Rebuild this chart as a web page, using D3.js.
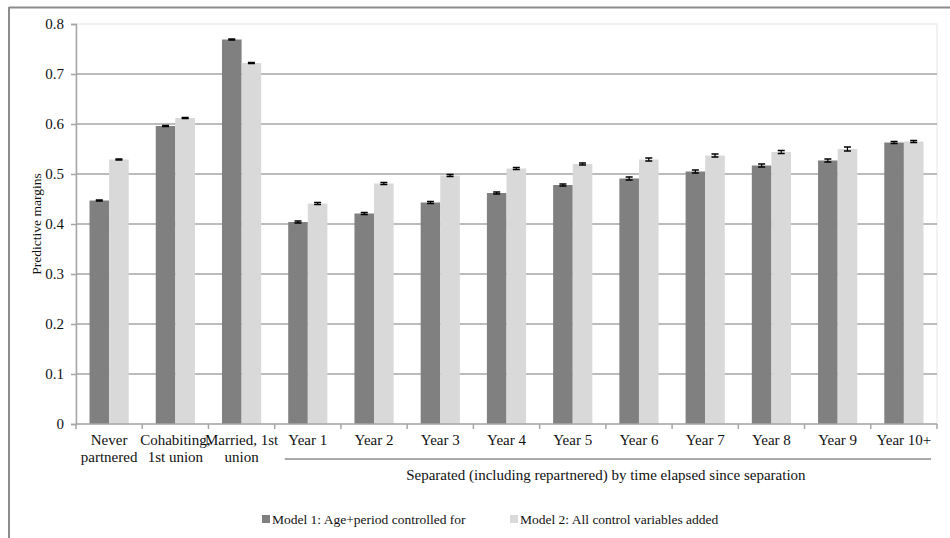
<!DOCTYPE html>
<html>
<head>
<meta charset="utf-8">
<script src="https://cdn.jsdelivr.net/npm/d3@7/dist/d3.min.js"></script>
<style>
  html, body { margin: 0; padding: 0; background: #fff; }
  svg { display: block; font-family: "Liberation Serif", "Times New Roman", serif; }
</style>
</head>
<body>
<svg id="chart" width="950" height="538"></svg>
<script>
// Category labels (line-broken where the label wraps)
const categories = [
  ["Never", "partnered"], ["Cohabiting,", "1st union"], ["Married, 1st", "union"],
  ["Year 1"], ["Year 2"], ["Year 3"], ["Year 4"], ["Year 5"],
  ["Year 6"], ["Year 7"], ["Year 8"], ["Year 9"], ["Year 10+"]
];
const seriesNames = ["Model 1: Age+period controlled for", "Model 2: All control variables added"];
const model1 = [0.447, 0.596, 0.769, 0.404, 0.421, 0.443, 0.462, 0.478, 0.491, 0.505, 0.517, 0.527, 0.563];
const model2 = [0.529, 0.612, 0.722, 0.441, 0.481, 0.497, 0.511, 0.520, 0.529, 0.537, 0.544, 0.550, 0.565];
const err1   = [0.001, 0.001, 0.001, 0.002, 0.002, 0.002, 0.002, 0.002, 0.003, 0.003, 0.003, 0.003, 0.002];
const err2   = [0.001, 0.001, 0.001, 0.002, 0.002, 0.002, 0.002, 0.002, 0.003, 0.003, 0.003, 0.004, 0.002];
const yTicks = [0, 0.1, 0.2, 0.3, 0.4, 0.5, 0.6, 0.7, 0.8];
const yTitle = "Predictive margins";
const groupTitle = "Separated (including repartnered) by time elapsed since separation";

const colors = ["#808080", "#d9d9d9"];
const svg = d3.select("#chart");

// outer frame (top and left edges)
svg.append("line").attr("x1", 9).attr("x2", 950).attr("y1", 7.5).attr("y2", 7.5)
  .attr("stroke", "#8c8c8c").attr("stroke-width", 2);
svg.append("line").attr("x1", 9).attr("x2", 9).attr("y1", 7).attr("y2", 538)
  .attr("stroke", "#8c8c8c").attr("stroke-width", 2);

const plotL = 76, plotR = 937, plotT = 24, plotB = 424;
const x = d3.scaleBand().domain(d3.range(categories.length)).range([plotL, plotR]).paddingInner(0).paddingOuter(0);
const y = d3.scaleLinear().domain([0, 0.8]).range([plotB, plotT]);

// plot area border (top/right)
svg.append("rect").attr("x", plotL).attr("y", plotT).attr("width", plotR - plotL).attr("height", plotB - plotT)
  .attr("fill", "none").attr("stroke", "#e6e6e6").attr("stroke-width", 1);

// horizontal gridlines
svg.append("g").selectAll("line").data(yTicks.filter(d => d > 0 && d < 0.8)).join("line")
  .attr("x1", plotL).attr("x2", plotR)
  .attr("y1", d => y(d)).attr("y2", d => y(d))
  .attr("stroke", "#a6a6a6").attr("stroke-width", 1.5);

// y axis
const yAxis = svg.append("g").attr("transform", `translate(${plotL},0)`)
  .call(d3.axisLeft(y).tickValues(yTicks).tickSize(5).tickPadding(7).tickFormat(d => d === 0 ? "0" : d3.format(".1f")(d)));
yAxis.select(".domain").attr("stroke", "#a6a6a6").attr("stroke-width", 1.5);
yAxis.selectAll(".tick line").attr("stroke", "#a6a6a6").attr("stroke-width", 1.5);
yAxis.selectAll(".tick text").attr("font-size", 15).attr("fill", "#111")
  .attr("font-family", "'Liberation Serif', serif");

// bars
const bw = 19.6;
const data = categories.map((c, i) => ({ i, vals: [model1[i], model2[i]], errs: [err1[i], err2[i]] }));
const groups = svg.append("g").selectAll("g").data(data).join("g")
  .attr("transform", d => `translate(${x(d.i) + x.bandwidth() / 2 - bw},0)`);
groups.selectAll("rect").data(d => d.vals.map((v, k) => ({ v, k }))).join("rect")
  .attr("x", d => d.k * bw).attr("width", bw)
  .attr("y", d => y(d.v)).attr("height", d => y(0) - y(d.v))
  .attr("fill", d => colors[d.k]);

// error bars
groups.each(function (d) {
  const g = d3.select(this);
  d.vals.forEach((v, k) => {
    const cx = k * bw + bw / 2, y1 = y(v + d.errs[k]), y2 = y(v - d.errs[k]);
    g.append("line").attr("x1", cx).attr("x2", cx).attr("y1", y1).attr("y2", y2).attr("stroke", "#000").attr("stroke-width", 1.2);
    [y1, y2].forEach(yy => g.append("line").attr("x1", cx - 3.5).attr("x2", cx + 3.5).attr("y1", yy).attr("y2", yy)
      .attr("stroke", "#000").attr("stroke-width", 1.5));
  });
});

// x axis baseline and category ticks
svg.append("line").attr("x1", plotL).attr("x2", plotR).attr("y1", plotB).attr("y2", plotB)
  .attr("stroke", "#a6a6a6").attr("stroke-width", 1.5);
svg.append("g").selectAll("line").data(d3.range(categories.length + 1)).join("line")
  .attr("x1", i => plotL + i * x.bandwidth()).attr("x2", i => plotL + i * x.bandwidth())
  .attr("y1", plotB).attr("y2", plotB + 5)
  .attr("stroke", "#a6a6a6").attr("stroke-width", 1.5);

// category labels
const lab = svg.append("g").selectAll("text").data(categories).join("text")
  .attr("x", (d, i) => x(i) + x.bandwidth() / 2).attr("y", 445)
  .attr("text-anchor", "middle").attr("font-size", 15).attr("fill", "#111");
lab.selectAll("tspan").data(d => d).join("tspan")
  .attr("x", function () { return this.parentNode.getAttribute("x"); })
  .attr("dy", (d, j) => j === 0 ? 0 : 17).text(d => d);

// group bracket under separated years
const gx1 = x(3) + 10, gx2 = plotR - 6;
svg.append("line").attr("x1", gx1).attr("x2", gx2).attr("y1", 459).attr("y2", 459)
  .attr("stroke", "#555").attr("stroke-width", 1.2);
svg.append("text").attr("x", (x(3) + plotR) / 2).attr("y", 480).attr("text-anchor", "middle")
  .attr("font-size", 15).attr("fill", "#111").text(groupTitle);

// y axis title
svg.append("text").attr("transform", "translate(41,224) rotate(-90)").attr("text-anchor", "middle")
  .attr("font-size", 13.5).attr("fill", "#111").text(yTitle);

// legend
const legendX = [262, 510];
const leg = svg.append("g").selectAll("g").data(seriesNames).join("g")
  .attr("transform", (d, i) => `translate(${legendX[i]},515)`);
leg.append("rect").attr("x", 0).attr("y", 0).attr("width", 8).attr("height", 8).attr("fill", (d, i) => colors[i]);
leg.append("text").attr("x", 10).attr("y", 8.5).attr("font-size", 13.5).attr("fill", "#111").text(d => d);
</script>
</body>
</html>
